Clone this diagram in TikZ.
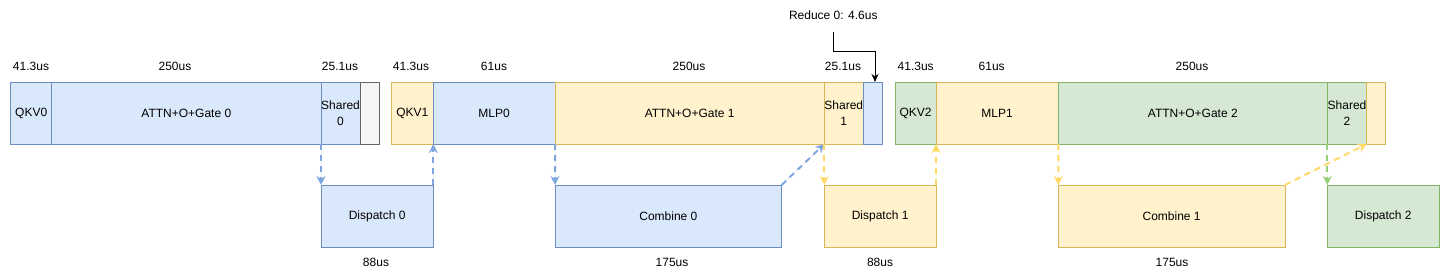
\documentclass[tikz,border=0pt]{standalone}
\usepackage{fontspec}
\setmainfont{Liberation Sans}
\usetikzlibrary{arrows.meta}
\definecolor{bfill}{HTML}{DAE8FC}\definecolor{bdraw}{HTML}{6C8EBF}
\definecolor{yfill}{HTML}{FFF2CC}\definecolor{ydraw}{HTML}{D6B656}
\definecolor{gfill}{HTML}{D5E8D4}\definecolor{gdraw}{HTML}{82B366}
\definecolor{kfill}{HTML}{F5F5F5}\definecolor{kdraw}{HTML}{666666}
\definecolor{barrow}{HTML}{7EA6E0}\definecolor{yarrow}{HTML}{FFD966}\definecolor{garrow}{HTML}{97D077}
\newcommand{\cellbox}[7]{%
  \pgfmathsetmacro{\cw}{#3-#2}%
  \node[#6, minimum width=\cw pt] (#1) at ({(#2+#3)/2},{(#4+#5)/2}) {#7};%
}
\begin{document}
\begin{tikzpicture}[x=1pt,y=-1pt,
  cell/.style={rectangle, inner sep=0pt, outer sep=0pt, line width=1pt,
    minimum height=62pt, align=center, font=\fontsize{12}{15.5}\selectfont, text=black},
  bluecell/.style={cell, fill=bfill, draw=bdraw},
  yelcell/.style={cell, fill=yfill, draw=ydraw},
  grncell/.style={cell, fill=gfill, draw=gdraw},
  graycell/.style={cell, fill=kfill, draw=kdraw},
  lbl/.style={inner sep=0pt, font=\fontsize{12}{14}\selectfont, text=black},
  flow/.style={line width=2pt, dash pattern=on 6pt off 5pt,
    -{Stealth[length=9pt,width=9pt,inset=3pt]}},
  bflow/.style={flow, draw=barrow, fill=barrow},
  yflow/.style={flow, draw=yarrow, fill=yarrow},
  gflow/.style={flow, draw=garrow, fill=garrow},
  kflow/.style={line width=1pt, draw=black, -{Stealth[length=8pt,width=7pt,inset=2.5pt]}}
]
\useasboundingbox[fill=white] (0,0) rectangle (1440,278);

% top row
\cellbox{qkv0}{10.7}{51.7}{82}{144}{bluecell}{QKV0}
\cellbox{attn0}{51.7}{321}{82}{144}{bluecell}{ATTN+O+Gate 0}
\cellbox{sh0}{321}{360}{82}{144}{bluecell}{Shared\\0}
\cellbox{gray0}{360}{379.3}{82}{144}{graycell}{}
\cellbox{qkv1}{391.5}{433.3}{82}{144}{yelcell}{QKV1}
\cellbox{mlp0}{433.3}{555}{82}{144}{bluecell}{MLP0}
\cellbox{attn1}{555}{824.3}{82}{144}{yelcell}{ATTN+O+Gate 1}
\cellbox{sh1}{824.3}{863.3}{82}{144}{yelcell}{Shared\\1}
\cellbox{red0}{863.3}{882.3}{82}{144}{bluecell}{}
\cellbox{qkv2}{895.3}{936}{82}{144}{grncell}{QKV2}
\cellbox{mlp1}{936}{1058.3}{82}{144}{yelcell}{MLP1}
\cellbox{attn2}{1058.3}{1327.3}{82}{144}{grncell}{ATTN+O+Gate 2}
\cellbox{sh2}{1327.3}{1366.7}{82}{144}{grncell}{Shared\\2}
\cellbox{yend}{1366.7}{1385.7}{82}{144}{yelcell}{}

% bottom row
\cellbox{disp0}{321}{433.3}{185}{247}{bluecell}{Dispatch 0}
\cellbox{comb0}{555}{781.7}{185}{247}{bluecell}{Combine 0}
\cellbox{disp1}{824.3}{936}{185}{247}{yelcell}{Dispatch 1}
\cellbox{comb1}{1058.3}{1285}{185}{247}{yelcell}{Combine 1}
\cellbox{disp2}{1327.3}{1439.3}{185}{247}{grncell}{Dispatch 2}

% duration labels
\node[lbl] (l1) at (31,66) {41.3us};
\node[lbl] (l2) at (175,66) {250us};
\node[lbl] (l3) at (340,66) {25.1us};
\node[lbl] (l4) at (411,66) {41.3us};
\node[lbl] (l5) at (494,66) {61us};
\node[lbl] (l6) at (689,66) {250us};
\node[lbl] (l7) at (843,66) {25.1us};
\node[lbl] (l8) at (915.7,66) {41.3us};
\node[lbl] (l9) at (991.7,66) {61us};
\node[lbl] (l10) at (1192,66) {250us};
\node[lbl] (b1) at (376,262) {88us};
\node[lbl] (b2) at (672,262) {175us};
\node[lbl] (b3) at (880,262) {88us};
\node[lbl] (b4) at (1172,262) {175us};
\node[lbl] (rlab) at (833.3,15) {Reduce 0: 4.6us};

% connectors
\draw[bflow] (sh0.south west) -- (disp0.north west);
\draw[bflow] (disp0.north east) -- (qkv1.south east);
\draw[bflow] (mlp0.south east) -- (comb0.north west);
\draw[bflow] (comb0.north east) -- (sh1.south west);
\draw[yflow] (sh1.south west) -- (disp1.north west);
\draw[yflow] (disp1.north east) -- (qkv2.south east);
\draw[yflow] (mlp1.south east) -- (comb1.north west);
\draw[yflow] (comb1.north east) -- (sh2.south east);
\draw[gflow] (sh2.south west) -- (disp2.north west);

\coordinate (rs) at (833.3,31.7);
\coordinate (rt) at (833.3,51.7);
\coordinate (re) at (875,82);
\draw[kflow] (rs) -- (rt) -| (re);
\end{tikzpicture}
\end{document}
